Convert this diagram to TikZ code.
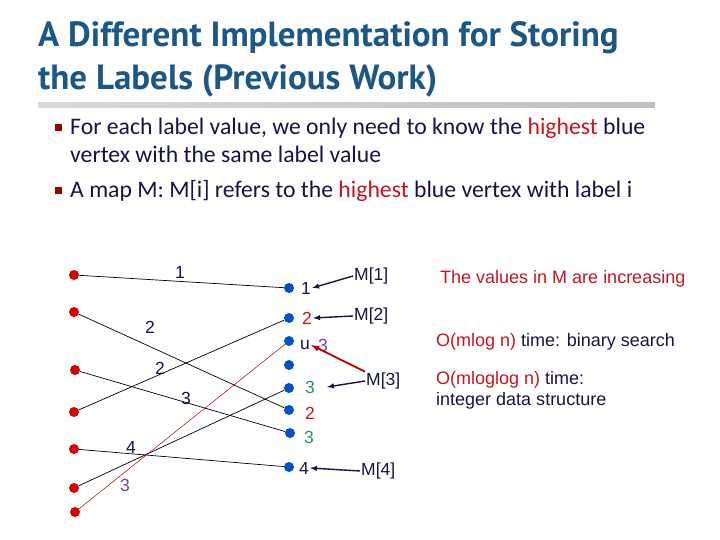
\documentclass[tikz,border=0pt]{standalone}
\usepackage{fontspec}
\setmainfont{Liberation Sans}
\newfontfamily\titlef{PT Sans}
\newfontfamily\bodyf{Carlito}
\begin{document}
\begin{tikzpicture}[x=1pt,y=-1pt,
  rdot/.style={circle,fill=red!85!black,inner sep=0pt,minimum size=10pt},
  bdot/.style={circle,fill=blue!60!cyan!80!black,inner sep=0pt,minimum size=10pt},
  lbl/.style={font=\fontsize{17.5}{17.5}\selectfont,text=navy,inner sep=1pt},
  edge/.style={draw=black,line width=0.7pt},
  marr/.style={draw=navy,line width=1.4pt,-latex}]
\definecolor{navy}{RGB}{20,20,70}
\definecolor{ttl}{RGB}{28,88,135}
\definecolor{hred}{RGB}{200,20,30}
\definecolor{grn}{RGB}{40,150,90}
\definecolor{purp}{RGB}{110,70,140}
\useasboundingbox (0,0) rectangle (720,540);
% title
\node[anchor=base west,inner sep=0pt,text=ttl,font=\titlef\bfseries\fontsize{35}{35}\selectfont] (t1) at (38,47) {A Different Implementation for Storing};
\node[anchor=base west,inner sep=0pt,text=ttl,font=\titlef\bfseries\fontsize{35}{35}\selectfont] (t2) at (38,90) {the Labels (Previous Work)};
\shade[left color=gray!30,right color=gray!50] (38,103) rectangle (655,108);
% bullets
\node[fill=red!60!black,inner sep=0pt,minimum size=7pt] (b1) at (58,128) {};
\node[fill=red!60!black,inner sep=0pt,minimum size=7pt] (b2) at (58,191) {};
\node[anchor=base west,inner sep=0pt,text=navy,font=\bodyf\fontsize{23.7}{23.7}\selectfont] (l1) at (70,135) {For each label value, we only need to know the \textcolor{hred}{highest} blue};
\node[anchor=base west,inner sep=0pt,text=navy,font=\bodyf\fontsize{23.7}{23.7}\selectfont] (l2) at (70,163) {vertex with the same label value};
\node[anchor=base west,inner sep=0pt,text=navy,font=\bodyf\fontsize{23.7}{23.7}\selectfont] (l3) at (70,198) {A map M: M[i] refers to the \textcolor{hred}{highest} blue vertex with label i};
% red dots
\node[rdot] (r1) at (74,275) {};
\node[rdot] (r2) at (74,312) {};
\node[rdot] (r3) at (75,370) {};
\node[rdot] (r4) at (74,412) {};
\node[rdot] (r5) at (74,449) {};
\node[rdot] (r6) at (74,488) {};
\node[rdot] (r7) at (75,512) {};
% blue dots
\node[bdot] (u1) at (289,288) {};
\node[bdot] (u2) at (289,318) {};
\node[bdot] (u3) at (289,341) {};
\node[bdot] (u4) at (289,365) {};
\node[bdot] (u5) at (289,388) {};
\node[bdot] (u6) at (289,410) {};
\node[bdot] (u7) at (290,433) {};
\node[bdot] (u8) at (289,467) {};
% edges
\draw[edge] (r1) -- (u1);
\draw[edge] (r2) -- (u6);
\draw[edge] (r3) -- (u7);
\draw[edge] (r4) -- (u2);
\draw[edge] (r5) -- (u8);
\draw[edge] (r6) -- (u5);
\draw[draw=red!70!black,line width=0.5pt] (r7) -- (u3);
% edge labels
\node[lbl] (e1) at (180,272) {1};
\node[lbl] (e2) at (150,327) {2};
\node[lbl] (e3) at (186,398) {3};
\node[lbl] (e4) at (160,368) {2};
\node[lbl] (e5) at (131,447) {4};
\node[lbl,text=purp] (e6) at (125,485) {3};
% vertex labels
\node[lbl] (v1) at (306,288) {1};
\node[lbl,text=hred] (v2) at (307,318) {2};
\node[lbl] (v3) at (305,345) {u};
\node[lbl,text=purp] (v3b) at (323,345) {3};
\node[lbl,text=grn] (v5) at (310,387) {3};
\node[lbl,text=hred] (v6) at (310,413) {2};
\node[lbl,text=grn] (v7) at (309,437) {3};
\node[lbl] (v8) at (304,468) {4};
% M labels
\node[lbl,anchor=west] (m1) at (353,276) {M[1]};
\node[lbl,anchor=west] (m2) at (353,316) {M[2]};
\node[lbl,anchor=west] (m3) at (365,381) {M[3]};
\node[lbl,anchor=west] (m4) at (360,471) {M[4]};
\draw[marr] (m1.west) -- (v1.east);
\draw[marr] (m2.west) -- (v2.east);
\draw[marr] (m3.west) -- (327,387);
\draw[marr] (m4.west) -- (v8.east);
\draw[draw=red!75!black,line width=1.8pt,-latex] (m3.north west) -- (v3.east);
% right text
\node[anchor=west,inner sep=0pt,text=hred,font=\fontsize{18}{18}\selectfont] (n1) at (440,279) {The values in M are increasing};
\node[anchor=west,inner sep=0pt,text=navy,font=\fontsize{18}{18}\selectfont] (n2) at (436,342) {\textcolor{hred}{O(mlog n)} time: binary search};
\node[anchor=north west,inner sep=0pt,text=navy,font=\fontsize{18}{21}\selectfont,align=left] (n3) at (436,371) {\textcolor{hred}{O(mloglog n)} time:\\integer data structure};
\end{tikzpicture}
\end{document}
